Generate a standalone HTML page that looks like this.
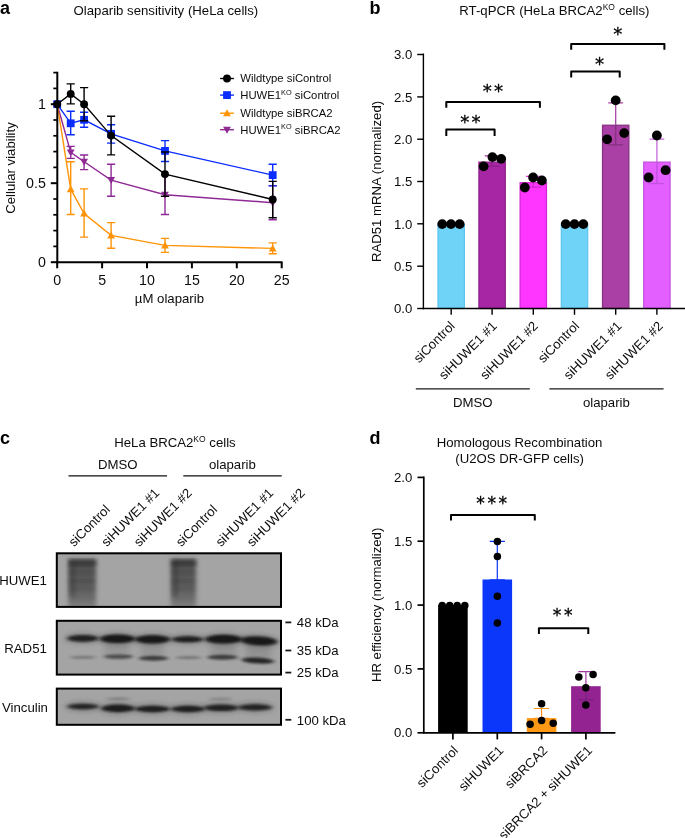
<!DOCTYPE html>
<html lang="en"><head><meta charset="utf-8"><title>Figure</title>
<style>html,body{margin:0;padding:0;background:#fff}svg{display:block;will-change:transform}text{font-family:'Liberation Sans', Arial, sans-serif;fill:#0c0c0c}.t{font-size:13.2px}.lg{font-size:11.3px}.pl{font-size:18px;font-weight:bold;fill:#000}.ast{font-family:"DejaVu Sans",sans-serif;font-size:18.2px;fill:#000;stroke:#000;stroke-width:0.3px;letter-spacing:2.2px}.ast2{font-size:17.2px;letter-spacing:2.5px}</style></head><body>
<svg width="685" height="838" viewBox="0 0 685 838">
<defs><filter id="b1" x="-20%" y="-50%" width="140%" height="200%"><feGaussianBlur stdDeviation="2.0 1.25"/></filter><filter id="b2" x="-20%" y="-50%" width="140%" height="200%"><feGaussianBlur stdDeviation="3 2.6"/></filter><filter id="b3" x="-30%" y="-30%" width="160%" height="160%"><feGaussianBlur stdDeviation="1.9"/></filter><linearGradient id="sm" x1="0" y1="0" x2="0" y2="1"><stop offset="0" stop-color="#3e3e3e"/><stop offset="0.2" stop-color="#545454"/><stop offset="0.6" stop-color="#5e5e5e"/><stop offset="0.85" stop-color="#727272"/><stop offset="1" stop-color="#868686"/></linearGradient></defs>
<rect width="685" height="838" fill="#fff"/>
<g id="panel-a">
<text class="pl" x="0" y="14.3">a</text>
<text class="t" x="165.9" y="14.7" text-anchor="middle">Olaparib sensitivity (HeLa cells)</text>
<g stroke="#8f2a95" stroke-width="1.4" fill="none">
<polyline points="57.2,104.2 70.7,152.4 84.1,161.8 111.1,180.1 165.0,194.7 272.7,202.7"/>
<path d="M70.7 146.4V158.4M66.6 146.4H74.8M66.6 158.4H74.8"/>
<path d="M84.1 155.0V169.6M80.0 155.0H88.2M80.0 169.6H88.2"/>
<path d="M111.1 164.3V196.2M107.0 164.3H115.2M107.0 196.2H115.2"/>
<path d="M165.0 174.9V214.5M160.9 174.9H169.1M160.9 214.5H169.1"/>
<path d="M272.7 185.6V219.8M268.6 185.6H276.8M268.6 219.8H276.8"/>
</g>
<path d="M57.2 108.2L61.1 101.2L53.3 101.2Z" fill="#8f2a95"/>
<path d="M70.7 156.4L74.6 149.4L66.8 149.4Z" fill="#8f2a95"/>
<path d="M84.1 165.8L88.0 158.8L80.2 158.8Z" fill="#8f2a95"/>
<path d="M111.1 184.1L115.0 177.1L107.2 177.1Z" fill="#8f2a95"/>
<path d="M165.0 198.7L168.9 191.7L161.1 191.7Z" fill="#8f2a95"/>
<path d="M272.7 206.7L276.6 199.7L268.8 199.7Z" fill="#8f2a95"/>
<g stroke="#ff9408" stroke-width="1.4" fill="none">
<polyline points="57.2,104.2 70.7,189.2 84.1,213.5 111.1,235.4 165.0,245.4 272.7,248.4"/>
<path d="M70.7 161.8V214.5M66.6 161.8H74.8M66.6 214.5H74.8"/>
<path d="M84.1 188.9V237.1M80.0 188.9H88.2M80.0 237.1H88.2"/>
<path d="M111.1 222.6V248.2M107.0 222.6H115.2M107.0 248.2H115.2"/>
<path d="M165.0 238.4V252.4M160.9 238.4H169.1M160.9 252.4H169.1"/>
<path d="M272.7 242.9V253.7M268.6 242.9H276.8M268.6 253.7H276.8"/>
</g>
<path d="M57.2 100.2L61.1 107.2L53.3 107.2Z" fill="#ff9408"/>
<path d="M70.7 185.2L74.6 192.2L66.8 192.2Z" fill="#ff9408"/>
<path d="M84.1 209.5L88.0 216.5L80.2 216.5Z" fill="#ff9408"/>
<path d="M111.1 231.4L115.0 238.4L107.2 238.4Z" fill="#ff9408"/>
<path d="M165.0 241.4L168.9 248.4L161.1 248.4Z" fill="#ff9408"/>
<path d="M272.7 244.4L276.6 251.4L268.8 251.4Z" fill="#ff9408"/>
<g stroke="#0a2cff" stroke-width="1.4" fill="none">
<polyline points="57.2,104.2 70.7,123.3 84.1,119.8 111.1,133.8 165.0,150.9 272.7,175.1"/>
<path d="M70.7 111.2V134.8M66.6 111.2H74.8M66.6 134.8H74.8"/>
<path d="M84.1 112.2V127.3M80.0 112.2H88.2M80.0 127.3H88.2"/>
<path d="M111.1 124.8V143.1M107.0 124.8H115.2M107.0 143.1H115.2"/>
<path d="M165.0 140.6V161.5M160.9 140.6H169.1M160.9 161.5H169.1"/>
<path d="M272.7 164.3V185.9M268.6 164.3H276.8M268.6 185.9H276.8"/>
</g>
<rect x="53.3" y="100.3" width="7.8" height="7.8" fill="#0a2cff"/>
<rect x="66.8" y="119.4" width="7.8" height="7.8" fill="#0a2cff"/>
<rect x="80.2" y="115.9" width="7.8" height="7.8" fill="#0a2cff"/>
<rect x="107.2" y="129.9" width="7.8" height="7.8" fill="#0a2cff"/>
<rect x="161.1" y="147.0" width="7.8" height="7.8" fill="#0a2cff"/>
<rect x="268.8" y="171.2" width="7.8" height="7.8" fill="#0a2cff"/>
<g stroke="#000" stroke-width="1.4" fill="none">
<polyline points="57.2,104.2 70.7,93.9 84.1,104.2 111.1,135.6 165.0,174.1 272.7,199.5"/>
<path d="M70.7 83.9V103.9M66.6 83.9H74.8M66.6 103.9H74.8"/>
<path d="M84.1 87.6V120.8M80.0 87.6H88.2M80.0 120.8H88.2"/>
<path d="M111.1 116.2V154.9M107.0 116.2H115.2M107.0 154.9H115.2"/>
<path d="M165.0 152.0V196.2M160.9 152.0H169.1M160.9 196.2H169.1"/>
<path d="M272.7 181.4V217.8M268.6 181.4H276.8M268.6 217.8H276.8"/>
</g>
<circle cx="57.2" cy="104.2" r="3.95" fill="#000"/>
<circle cx="70.7" cy="93.9" r="3.95" fill="#000"/>
<circle cx="84.1" cy="104.2" r="3.95" fill="#000"/>
<circle cx="111.1" cy="135.6" r="3.95" fill="#000"/>
<circle cx="165.0" cy="174.1" r="3.95" fill="#000"/>
<circle cx="272.7" cy="199.5" r="3.95" fill="#000"/>
<g stroke="#000" stroke-width="2" fill="none">
<path d="M57.3 71.8V263.2"/>
<path d="M56.3 262.2H282.5"/>
<path d="M57.2 262.2V268.3"/>
<path d="M102.1 262.2V268.3"/>
<path d="M147.0 262.2V268.3"/>
<path d="M191.9 262.2V268.3"/>
<path d="M236.8 262.2V268.3"/>
<path d="M281.7 262.2V268.3"/>
<path d="M50.8 262.2H57.3"/>
<path d="M50.8 183.2H57.3"/>
<path d="M50.8 104.2H57.3"/>
</g>
<g stroke="#000" stroke-width="1.7" fill="none">
<path d="M53.3 246.4H57.3"/>
<path d="M53.3 230.6H57.3"/>
<path d="M53.3 214.8H57.3"/>
<path d="M53.3 199.0H57.3"/>
<path d="M53.3 167.4H57.3"/>
<path d="M53.3 151.6H57.3"/>
<path d="M53.3 135.8H57.3"/>
<path d="M53.3 120.0H57.3"/>
<path d="M53.3 88.4H57.3"/>
<path d="M53.3 72.6H57.3"/>
</g>
<text class="t" style="font-size:14.2px" x="45.8" y="267.3" text-anchor="end">0</text>
<text class="t" style="font-size:14.2px" x="45.8" y="188.3" text-anchor="end">0.5</text>
<text class="t" style="font-size:14.2px" x="45.8" y="109.3" text-anchor="end">1</text>
<text class="t" style="font-size:14.2px" x="57.2" y="285" text-anchor="middle">0</text>
<text class="t" style="font-size:14.2px" x="102.1" y="285" text-anchor="middle">5</text>
<text class="t" style="font-size:14.2px" x="147.0" y="285" text-anchor="middle">10</text>
<text class="t" style="font-size:14.2px" x="191.9" y="285" text-anchor="middle">15</text>
<text class="t" style="font-size:14.2px" x="236.8" y="285" text-anchor="middle">20</text>
<text class="t" style="font-size:14.2px" x="281.7" y="285" text-anchor="middle">25</text>
<text class="t" x="169.4" y="303.3" text-anchor="middle">µM olaparib</text>
<text class="t" transform="translate(14.8 168) rotate(-90)" text-anchor="middle">Cellular viability</text>
<path d="M220.1 78.5H233.9" stroke="#000" stroke-width="1.4"/>
<circle cx="227.0" cy="78.5" r="3.95" fill="#000"/>
<text class="lg" x="240.3" y="82.4">Wildtype siControl</text>
<path d="M220.1 95.1H233.9" stroke="#0a2cff" stroke-width="1.4"/>
<rect x="223.1" y="91.2" width="7.8" height="7.8" fill="#0a2cff"/>
<text class="lg" x="240.3" y="99.0">HUWE1<tspan dy="-4.3" font-size="7.3">KO</tspan><tspan dy="4.3"> siControl</tspan></text>
<path d="M220.1 113.2H233.9" stroke="#ff9408" stroke-width="1.4"/>
<path d="M227.0 109.2L230.9 116.2L223.1 116.2Z" fill="#ff9408"/>
<text class="lg" x="240.3" y="117.1">Wildtype siBRCA2</text>
<path d="M220.1 129.7H233.9" stroke="#8f2a95" stroke-width="1.4"/>
<path d="M227.0 133.7L230.9 126.7L223.1 126.7Z" fill="#8f2a95"/>
<text class="lg" x="240.3" y="133.6">HUWE1<tspan dy="-4.3" font-size="7.3">KO</tspan><tspan dy="4.3"> siBRCA2</tspan></text>
</g>
<g id="panel-b">
<text class="pl" x="369.6" y="14.2">b</text>
<text class="t" x="459.3" y="14.8">RT-qPCR (HeLa BRCA2<tspan dy="-5" font-size="8.5">KO</tspan><tspan dy="5"> cells)</tspan></text>
<rect x="438.0" y="224.4" width="26.4" height="84.1" fill="#6fd3f8" stroke="#5bc3ee" stroke-width="1.2"/>
<rect x="478.9" y="162.1" width="26.4" height="146.4" fill="#a626a4" stroke="#8d1f8c" stroke-width="1.2"/>
<path d="M492.1 155.9V161.5M484.7 155.9H499.5" stroke="#a636a4" stroke-width="1.25" fill="none"/>
<path d="M492.1 161.5V166.4M484.7 166.4H499.5" stroke="#8d1f8c" stroke-width="1.25" fill="none"/>
<rect x="520.1" y="182.7" width="26.4" height="125.8" fill="#ff36ff" stroke="#d224d2" stroke-width="1.2"/>
<path d="M533.3 176.4V182.1M525.9 176.4H540.7" stroke="#e040e0" stroke-width="1.25" fill="none"/>
<path d="M533.3 182.1V187.0M525.9 187.0H540.7" stroke="#d224d2" stroke-width="1.25" fill="none"/>
<rect x="561.3" y="224.4" width="26.4" height="84.1" fill="#6fd3f8" stroke="#5bc3ee" stroke-width="1.2"/>
<rect x="602.5" y="125.2" width="26.4" height="183.3" fill="#aa3fa6" stroke="#84307f" stroke-width="1.2"/>
<path d="M615.7 102.9V124.6M608.3 102.9H623.1" stroke="#a53ea2" stroke-width="1.25" fill="none"/>
<path d="M615.7 124.6V144.9M608.3 144.9H623.1" stroke="#84307f" stroke-width="1.25" fill="none"/>
<rect x="643.7" y="162.1" width="26.4" height="146.4" fill="#e45fff" stroke="#c14fe0" stroke-width="1.2"/>
<path d="M656.9 139.0V161.5M649.5 139.0H664.3" stroke="#c765dc" stroke-width="1.25" fill="none"/>
<path d="M656.9 161.5V183.5M649.5 183.5H664.3" stroke="#c14fe0" stroke-width="1.25" fill="none"/>
<circle cx="442.2" cy="224.1" r="4.9" fill="#000"/>
<circle cx="451.0" cy="224.1" r="4.9" fill="#000"/>
<circle cx="459.7" cy="224.1" r="4.9" fill="#000"/>
<circle cx="483.6" cy="166.4" r="4.9" fill="#000"/>
<circle cx="492.4" cy="157.1" r="4.9" fill="#000"/>
<circle cx="501.2" cy="158.9" r="4.9" fill="#000"/>
<circle cx="524.8" cy="187.5" r="4.9" fill="#000"/>
<circle cx="533.1" cy="177.5" r="4.9" fill="#000"/>
<circle cx="541.9" cy="180.5" r="4.9" fill="#000"/>
<circle cx="565.7" cy="224.1" r="4.9" fill="#000"/>
<circle cx="574.5" cy="224.1" r="4.9" fill="#000"/>
<circle cx="583.3" cy="224.1" r="4.9" fill="#000"/>
<circle cx="615.7" cy="100.4" r="4.9" fill="#000"/>
<circle cx="607.1" cy="139.3" r="4.9" fill="#000"/>
<circle cx="624.2" cy="133.1" r="4.9" fill="#000"/>
<circle cx="656.9" cy="135.5" r="4.9" fill="#000"/>
<circle cx="648.6" cy="177.5" r="4.9" fill="#000"/>
<circle cx="665.6" cy="170.2" r="4.9" fill="#000"/>
<g stroke="#000" stroke-width="1.4" fill="none">
<path d="M423.4 53.4V309.2"/>
<path d="M422.7 308.5H685"/>
<path d="M417.2 308.5H423.4"/>
<path d="M417.2 266.2H423.4"/>
<path d="M417.2 223.8H423.4"/>
<path d="M417.2 181.5H423.4"/>
<path d="M417.2 139.2H423.4"/>
<path d="M417.2 96.9H423.4"/>
<path d="M417.2 54.5H423.4"/>
<path d="M451.2 308.5V314.8"/>
<path d="M492.1 308.5V314.8"/>
<path d="M533.3 308.5V314.8"/>
<path d="M574.5 308.5V314.8"/>
<path d="M615.7 308.5V314.8"/>
<path d="M656.9 308.5V314.8"/>
</g>
<text class="t" x="412.3" y="313.2" text-anchor="end">0.0</text>
<text class="t" x="412.3" y="270.9" text-anchor="end">0.5</text>
<text class="t" x="412.3" y="228.5" text-anchor="end">1.0</text>
<text class="t" x="412.3" y="186.2" text-anchor="end">1.5</text>
<text class="t" x="412.3" y="143.9" text-anchor="end">2.0</text>
<text class="t" x="412.3" y="101.6" text-anchor="end">2.5</text>
<text class="t" x="412.3" y="59.2" text-anchor="end">3.0</text>
<text class="t" transform="translate(381.3 181.5) rotate(-90)" text-anchor="middle">RAD51 mRNA (normalized)</text>
<text class="t" transform="translate(455.7 326.8) rotate(-45)" text-anchor="end">siControl</text>
<text class="t" transform="translate(497.6 326.8) rotate(-45)" text-anchor="end">siHUWE1 #1</text>
<text class="t" transform="translate(538.8 326.8) rotate(-45)" text-anchor="end">siHUWE1 #2</text>
<text class="t" transform="translate(580.0 326.8) rotate(-45)" text-anchor="end">siControl</text>
<text class="t" transform="translate(622.5 326.8) rotate(-45)" text-anchor="end">siHUWE1 #1</text>
<text class="t" transform="translate(663.7 326.8) rotate(-45)" text-anchor="end">siHUWE1 #2</text>
<g stroke="#1a1a1a" stroke-width="1.2" fill="none"><path d="M415.8 388.8H529.8M549.4 388.8H663.6"/></g>
<text class="t" x="472.8" y="407.3" text-anchor="middle">DMSO</text>
<text class="t" x="606.4" y="407.3" text-anchor="middle">olaparib</text>
<path d="M446.3 135.9V129.5H494.6V135.9" stroke="#000" stroke-width="2" fill="none" stroke-linejoin="round"/>
<path d="M446.3 107.8V102.0H539.9V107.8" stroke="#000" stroke-width="2" fill="none" stroke-linejoin="round"/>
<path d="M571.2 77.4V71.6H619.7V77.4" stroke="#000" stroke-width="2" fill="none" stroke-linejoin="round"/>
<path d="M571.2 49.7V43.9H664.4V49.7" stroke="#000" stroke-width="2" fill="none" stroke-linejoin="round"/>
<text class="ast" x="471.6" y="127.5" text-anchor="middle">**</text>
<text class="ast" x="494.1" y="97.4" text-anchor="middle">**</text>
<text class="ast" x="600.7" y="69.6" text-anchor="middle">*</text>
<text class="ast" x="618.8" y="39.5" text-anchor="middle">*</text>
</g>
<g id="panel-c">
<text class="pl" x="0" y="444">c</text>
<text class="t" x="114.2" y="447.2">HeLa BRCA2<tspan dy="-5" font-size="8.5">KO</tspan><tspan dy="5"> cells</tspan></text>
<text class="t" x="117.7" y="468.9" text-anchor="middle">DMSO</text>
<text class="t" x="232.4" y="468.9" text-anchor="middle">olaparib</text>
<path d="M68.5 475.8H167M183.3 475.8H281.7" stroke="#111" stroke-width="1.3" fill="none"/>
<text class="t" transform="translate(74.0 547.3) rotate(-45)">siControl</text>
<text class="t" transform="translate(106.7 547.3) rotate(-45)">siHUWE1 #1</text>
<text class="t" transform="translate(139.3 547.3) rotate(-45)">siHUWE1 #2</text>
<text class="t" transform="translate(181.2 547.3) rotate(-45)">siControl</text>
<text class="t" transform="translate(220.9 547.3) rotate(-45)">siHUWE1 #1</text>
<text class="t" transform="translate(252.3 547.3) rotate(-45)">siHUWE1 #2</text>
<clipPath id="c1"><rect x="57.8" y="554.3" width="222.2" height="51.6"/></clipPath>
<clipPath id="c2"><rect x="57.8" y="621.8" width="222.2" height="51.8"/></clipPath>
<clipPath id="c3"><rect x="57.8" y="689.6" width="222.2" height="34.2"/></clipPath>
<rect x="56.8" y="553.3" width="224.2" height="53.6" fill="#a4a4a4"/>
<g clip-path="url(#c1)">
<rect x="68.3" y="559.3" width="27.7" height="50" fill="url(#sm)" filter="url(#b3)"/>
<rect x="69.3" y="560" width="26.7" height="5" fill="#2a2a2a" opacity="0.5" filter="url(#b3)"/>
<rect x="69.3" y="561" width="6" height="36" fill="#2a2a2a" opacity="0.3" filter="url(#b3)"/>
<rect x="69.3" y="570.8" width="25.7" height="3.5" fill="#222" opacity="0.14" filter="url(#b3)"/>
<rect x="69.3" y="579.8" width="25.7" height="3.5" fill="#222" opacity="0.20" filter="url(#b3)"/>
<rect x="69.3" y="586.8" width="25.7" height="3.5" fill="#222" opacity="0.10" filter="url(#b3)"/>
<rect x="170.8" y="559.3" width="25.2" height="50" fill="url(#sm)" filter="url(#b3)"/>
<rect x="171.8" y="560" width="24.2" height="5" fill="#2a2a2a" opacity="0.5" filter="url(#b3)"/>
<rect x="171.8" y="561" width="6" height="36" fill="#2a2a2a" opacity="0.3" filter="url(#b3)"/>
<rect x="171.8" y="570.8" width="23.2" height="3.5" fill="#222" opacity="0.14" filter="url(#b3)"/>
<rect x="171.8" y="579.8" width="23.2" height="3.5" fill="#222" opacity="0.20" filter="url(#b3)"/>
<rect x="171.8" y="586.8" width="23.2" height="3.5" fill="#222" opacity="0.10" filter="url(#b3)"/>
</g>
<rect x="56.8" y="620.8" width="224.2" height="53.8" fill="#a4a4a4"/>
<g clip-path="url(#c2)">
<rect x="105.0" y="638" width="24.0" height="20" fill="#333" opacity="0.12" filter="url(#b2)"/>
<rect x="141.0" y="638" width="23.0" height="20" fill="#333" opacity="0.12" filter="url(#b2)"/>
<rect x="211.0" y="638" width="25.0" height="20" fill="#333" opacity="0.15" filter="url(#b2)"/>
<rect x="246.0" y="638" width="25.0" height="20" fill="#333" opacity="0.16" filter="url(#b2)"/>
<ellipse cx="82.8" cy="638.4" rx="17.2" ry="4.8" fill="#161616" opacity="0.30" filter="url(#b2)"/>
<ellipse cx="82.8" cy="638.4" rx="15.2" ry="3.3" fill="#161616" opacity="0.90" filter="url(#b1)"/>
<ellipse cx="117.5" cy="638.8" rx="19.5" ry="5.8" fill="#161616" opacity="0.30" filter="url(#b2)"/>
<ellipse cx="117.5" cy="638.8" rx="17.5" ry="4.3" fill="#161616" opacity="0.97" filter="url(#b1)"/>
<ellipse cx="152.5" cy="639.3" rx="19.5" ry="5.6" fill="#161616" opacity="0.30" filter="url(#b2)"/>
<ellipse cx="152.5" cy="639.3" rx="17.5" ry="4.1" fill="#161616" opacity="0.97" filter="url(#b1)"/>
<ellipse cx="187.5" cy="639.3" rx="17.5" ry="4.5" fill="#161616" opacity="0.30" filter="url(#b2)"/>
<ellipse cx="187.5" cy="639.3" rx="15.5" ry="3.0" fill="#161616" opacity="0.90" filter="url(#b1)"/>
<ellipse cx="223.5" cy="639.2" rx="20.0" ry="5.9" fill="#161616" opacity="0.30" filter="url(#b2)"/>
<ellipse cx="223.5" cy="639.2" rx="18.0" ry="4.4" fill="#161616" opacity="0.97" filter="url(#b1)"/>
<ellipse cx="258.8" cy="640.8" rx="20.2" ry="5.9" fill="#161616" opacity="0.30" filter="url(#b2)" transform="rotate(3.0 258.8 640.8)"/>
<ellipse cx="258.8" cy="640.8" rx="18.2" ry="4.4" fill="#161616" opacity="0.97" filter="url(#b1)" transform="rotate(3.0 258.8 640.8)"/>
<ellipse cx="83.0" cy="657.3" rx="13.0" ry="1.6" fill="#161616" opacity="0.30" filter="url(#b1)"/>
<ellipse cx="118.5" cy="656.6" rx="14.5" ry="2.2" fill="#161616" opacity="0.60" filter="url(#b1)"/>
<ellipse cx="153.5" cy="658.2" rx="14.5" ry="2.5" fill="#161616" opacity="0.70" filter="url(#b1)"/>
<ellipse cx="188.5" cy="657.7" rx="12.5" ry="1.6" fill="#161616" opacity="0.32" filter="url(#b1)"/>
<ellipse cx="222.5" cy="657.3" rx="15.0" ry="2.5" fill="#161616" opacity="0.70" filter="url(#b1)"/>
<ellipse cx="257.8" cy="660.6" rx="16.2" ry="3.0" fill="#161616" opacity="0.88" filter="url(#b1)" transform="rotate(3.0 257.8 660.6)"/>
</g>
<rect x="56.8" y="688.6" width="224.2" height="36.2" fill="#a4a4a4"/>
<g clip-path="url(#c3)">
<ellipse cx="83.0" cy="706.6" rx="17.5" ry="4.8" fill="#161616" opacity="0.28" filter="url(#b2)"/>
<ellipse cx="83.0" cy="706.6" rx="15.5" ry="2.8" fill="#161616" opacity="0.85" filter="url(#b1)"/>
<ellipse cx="118.0" cy="708.4" rx="18.5" ry="5.8" fill="#161616" opacity="0.28" filter="url(#b2)"/>
<ellipse cx="118.0" cy="708.4" rx="16.5" ry="3.8" fill="#161616" opacity="0.93" filter="url(#b1)"/>
<ellipse cx="152.5" cy="709.0" rx="19.0" ry="5.2" fill="#161616" opacity="0.28" filter="url(#b2)"/>
<ellipse cx="152.5" cy="709.0" rx="17.0" ry="3.2" fill="#161616" opacity="0.90" filter="url(#b1)"/>
<ellipse cx="188.0" cy="709.0" rx="18.5" ry="5.3" fill="#161616" opacity="0.28" filter="url(#b2)"/>
<ellipse cx="188.0" cy="709.0" rx="16.5" ry="3.3" fill="#161616" opacity="0.90" filter="url(#b1)"/>
<ellipse cx="221.2" cy="707.8" rx="18.8" ry="5.3" fill="#161616" opacity="0.28" filter="url(#b2)"/>
<ellipse cx="221.2" cy="707.8" rx="16.8" ry="3.3" fill="#161616" opacity="0.88" filter="url(#b1)"/>
<ellipse cx="255.0" cy="707.4" rx="18.5" ry="5.1" fill="#161616" opacity="0.28" filter="url(#b2)"/>
<ellipse cx="255.0" cy="707.4" rx="16.5" ry="3.1" fill="#161616" opacity="0.87" filter="url(#b1)"/>
<ellipse cx="118.0" cy="698.7" rx="12.0" ry="1.5" fill="#161616" opacity="0.22" filter="url(#b1)"/>
<ellipse cx="220.5" cy="698.9" rx="11.5" ry="1.5" fill="#161616" opacity="0.18" filter="url(#b1)"/>
</g>
<rect x="56.8" y="553.3" width="224.2" height="53.6" fill="none" stroke="#000" stroke-width="2"/>
<rect x="56.8" y="620.8" width="224.2" height="53.8" fill="none" stroke="#000" stroke-width="2"/>
<rect x="56.8" y="688.6" width="224.2" height="36.2" fill="none" stroke="#000" stroke-width="2"/>
<text class="t" x="-0.8" y="585.2">HUWE1</text>
<text class="t" x="4.3" y="653">RAD51</text>
<text class="t" x="2" y="712.1">Vinculin</text>
<path d="M285.4 622.4H291.3" stroke="#1a1a1a" stroke-width="1.8"/>
<text class="t" x="296.8" y="627.2">48 kDa</text>
<path d="M285.4 650.5H291.3" stroke="#1a1a1a" stroke-width="1.8"/>
<text class="t" x="296.8" y="655.3">35 kDa</text>
<path d="M285.4 672.6H291.3" stroke="#1a1a1a" stroke-width="1.8"/>
<text class="t" x="296.8" y="677.4">25 kDa</text>
<path d="M285.4 719.8H291.3" stroke="#1a1a1a" stroke-width="1.8"/>
<text class="t" x="296.8" y="724.6">100 kDa</text>
</g>
<g id="panel-d" transform="translate(0 0.4)">
<text class="pl" x="369.6" y="443.4">d</text>
<text class="t" x="519.6" y="446.8" text-anchor="middle">Homologous Recombination</text>
<text class="t" x="519.6" y="462.6" text-anchor="middle">(U2OS DR-GFP cells)</text>
<rect x="438.1" y="604.7" width="29.6" height="127.7" fill="#000"/>
<rect x="482.5" y="579.1" width="29.6" height="153.3" fill="#0a37fa"/>
<rect x="526.8" y="717.7" width="29.6" height="14.7" fill="#ff9814"/>
<rect x="571.1" y="685.8" width="29.6" height="46.6" fill="#922391"/>
<g stroke-width="1.2" fill="none">
<path d="M497.3 541.0V579.5M489.7 541.0H504.9M489.7 579.5H504.9" stroke="#0a37fa"/>
<path d="M541.6 708.1V718.0M534.0 708.1H549.2M534.0 718.0H549.2" stroke="#ff9814"/>
<path d="M585.9 671.2V699.5M578.3 671.2H593.5M578.3 699.5H593.5" stroke="#a03aa0"/>
</g>
<path d="M585.9 686V699.5M578.3 699.5H593.5" stroke="#761876" stroke-width="1.1" fill="none"/>
<circle cx="442.2" cy="605.2" r="3.75" fill="#000"/>
<circle cx="449.7" cy="605.2" r="3.75" fill="#000"/>
<circle cx="457.2" cy="605.2" r="3.75" fill="#000"/>
<circle cx="464.8" cy="605.2" r="3.75" fill="#000"/>
<circle cx="497.4" cy="541.0" r="3.75" fill="#000"/>
<circle cx="497.4" cy="556.1" r="3.75" fill="#000"/>
<circle cx="497.4" cy="595.9" r="3.75" fill="#000"/>
<circle cx="497.4" cy="622.5" r="3.75" fill="#000"/>
<circle cx="541.6" cy="703.3" r="3.75" fill="#000"/>
<circle cx="530.1" cy="723.9" r="3.75" fill="#000"/>
<circle cx="541.6" cy="720.2" r="3.75" fill="#000"/>
<circle cx="553.2" cy="722.9" r="3.75" fill="#000"/>
<circle cx="578.8" cy="676.5" r="3.75" fill="#000"/>
<circle cx="593.1" cy="674.2" r="3.75" fill="#000"/>
<circle cx="585.8" cy="687.3" r="3.75" fill="#000"/>
<circle cx="585.8" cy="704.7" r="3.75" fill="#000"/>
<g stroke="#000" stroke-width="1.7" fill="none">
<path d="M423.8 476V733.1"/>
<path d="M423.1 732.4H615.4"/>
<path d="M417.5 732.4H423.8"/>
<path d="M417.5 668.5H423.8"/>
<path d="M417.5 604.7H423.8"/>
<path d="M417.5 540.8H423.8"/>
<path d="M417.5 477.0H423.8"/>
<path d="M452.9 732.4V739"/>
<path d="M497.3 732.4V739"/>
<path d="M541.6 732.4V739"/>
<path d="M585.9 732.4V739"/>
</g>
<text class="t" x="412.3" y="737.1" text-anchor="end">0.0</text>
<text class="t" x="412.3" y="673.2" text-anchor="end">0.5</text>
<text class="t" x="412.3" y="609.4" text-anchor="end">1.0</text>
<text class="t" x="412.3" y="545.5" text-anchor="end">1.5</text>
<text class="t" x="412.3" y="481.7" text-anchor="end">2.0</text>
<text class="t" transform="translate(381.3 604.5) rotate(-90)" text-anchor="middle">HR efficiency (normalized)</text>
<text class="t" transform="translate(458.9 751) rotate(-45)" text-anchor="end">siControl</text>
<text class="t" transform="translate(504.3 751) rotate(-45)" text-anchor="end">siHUWE1</text>
<text class="t" transform="translate(548.1 751) rotate(-45)" text-anchor="end">siBRCA2</text>
<text class="t" transform="translate(592.9 751) rotate(-45)" text-anchor="end">siBRCA2 + siHUWE1</text>
<path d="M451.0 520.0V514.6H534.8V520.0" stroke="#000" stroke-width="2" fill="none" stroke-linejoin="round"/>
<path d="M538.9 633.6V627.8H588.3V633.6" stroke="#000" stroke-width="2" fill="none" stroke-linejoin="round"/>
<text class="ast ast2" x="492.95" y="508.9" text-anchor="middle">***</text>
<text class="ast ast2" x="563.95" y="620.4" text-anchor="middle">**</text>
</g>
</svg></body></html>
